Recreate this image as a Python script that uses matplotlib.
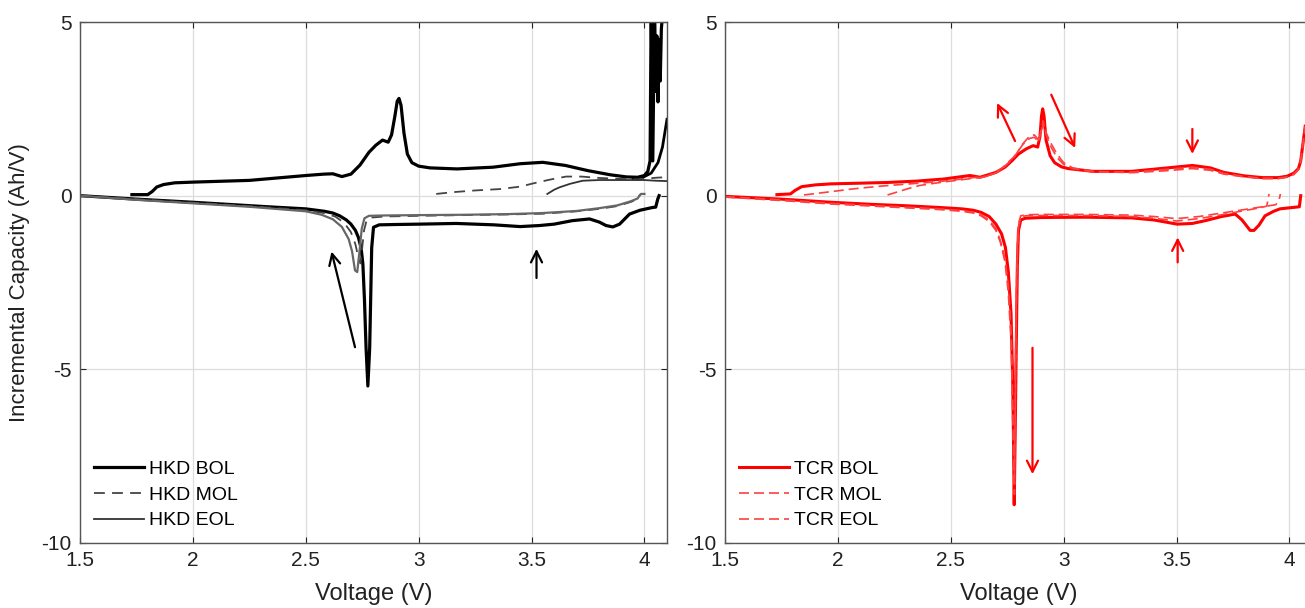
import matplotlib.pyplot as plt

plt.rcParams['font.family'] = ['Liberation Sans', 'DejaVu Sans']
plt.rcParams['axes.unicode_minus'] = False

# ---- HKD cell (left panel) ----
hkd_bol_chg_v = [1.73, 1.80, 1.82, 1.84, 1.87, 1.92, 2.0, 2.25, 2.5, 2.58, 2.62, 2.66, 2.70, 2.74, 2.78,
                 2.81, 2.84, 2.865, 2.88, 2.895, 2.905, 2.913, 2.922, 2.935, 2.95, 2.97, 3.0, 3.05, 3.17,
                 3.33, 3.45, 3.55, 3.65, 3.75, 3.85, 3.92, 3.97, 4.0, 4.015, 4.025, 4.03, 4.037, 4.045,
                 4.05, 4.055, 4.06, 4.065, 4.07, 4.075, 4.08]
hkd_bol_chg_y = [0.03, 0.03, 0.12, 0.25, 0.32, 0.37, 0.39, 0.44, 0.58, 0.62, 0.63, 0.55, 0.62, 0.88, 1.25,
                 1.45, 1.6, 1.54, 1.75, 2.3, 2.72, 2.8, 2.6, 1.8, 1.2, 0.95, 0.85, 0.8, 0.77,
                 0.82, 0.92, 0.96, 0.87, 0.72, 0.6, 0.54, 0.53, 0.58, 0.7, 1.0, 5.5, 1.0, 5.5,
                 3.0, 4.6, 2.7, 4.5, 3.3, 4.8, 5.2]
hkd_bol_tail_v = [3.95, 4.0, 4.03, 4.06, 4.08, 4.1]
hkd_bol_tail_y = [0.5, 0.55, 0.65, 0.95, 1.4, 2.2]
hkd_bol_dis_v = [1.5, 1.75, 2.0, 2.333, 2.5, 2.583, 2.62, 2.65, 2.68, 2.7, 2.72, 2.733, 2.745, 2.753, 2.76,
                 2.767, 2.775, 2.783, 2.788, 2.792, 2.8, 2.825, 2.9, 3.0, 3.167, 3.333, 3.45, 3.535, 3.6,
                 3.68, 3.757, 3.8, 3.83, 3.86, 3.89, 3.934, 3.98, 4.036, 4.05, 4.059, 4.065]
hkd_bol_dis_y = [0.0, -0.1, -0.19, -0.32, -0.38, -0.45, -0.5, -0.58, -0.7, -0.82, -1.0, -1.2, -1.5, -1.97, -3.0,
                 -4.37, -5.48, -4.4, -2.8, -1.5, -0.91, -0.84, -0.83, -0.82, -0.8, -0.84, -0.89, -0.86, -0.82,
                 -0.72, -0.67, -0.76, -0.86, -0.9, -0.82, -0.53, -0.42, -0.34, -0.33, -0.1, 0.0]

hkd_mol_chg_v = [3.078, 3.15, 3.25, 3.36, 3.45, 3.505, 3.58, 3.653, 3.72, 3.80, 3.9, 3.97, 4.02, 4.06, 4.1]
hkd_mol_chg_y = [0.05, 0.1, 0.15, 0.19, 0.26, 0.35, 0.46, 0.55, 0.55, 0.51, 0.48, 0.47, 0.5, 0.52, 0.53]
hkd_mol_dis_v = [1.5, 1.75, 2.0, 2.25, 2.5, 2.58, 2.63, 2.67, 2.7, 2.72, 2.735, 2.742, 2.75, 2.758, 2.77,
                 2.79, 2.85, 3.0, 3.2, 3.4, 3.55, 3.7, 3.8, 3.88, 3.94, 3.97, 3.978, 3.985]
hkd_mol_dis_y = [0.0, -0.1, -0.2, -0.3, -0.42, -0.5, -0.6, -0.78, -1.05, -1.4, -1.85, -1.95, -1.5, -1.0, -0.7,
                 -0.63, -0.6, -0.58, -0.56, -0.54, -0.52, -0.45, -0.38, -0.3, -0.18, -0.1, 0.0, 0.05]

hkd_eol_chg_v = [3.57, 3.6, 3.624, 3.67, 3.726, 3.8, 3.9, 4.0, 4.05, 4.1]
hkd_eol_chg_y = [0.05, 0.17, 0.24, 0.34, 0.43, 0.45, 0.45, 0.45, 0.43, 0.42]
hkd_eol_dis_v = [1.5, 1.75, 2.0, 2.25, 2.5, 2.57, 2.62, 2.66, 2.69, 2.705, 2.718, 2.728, 2.738, 2.748, 2.76,
                 2.78, 2.85, 3.0, 3.2, 3.4, 3.55, 3.7, 3.8, 3.88, 3.94, 3.97, 3.978, 3.985, 4.0]
hkd_eol_dis_y = [0.0, -0.12, -0.22, -0.32, -0.45, -0.55, -0.68, -0.9, -1.25, -1.6, -2.15, -2.2, -1.6, -0.95, -0.65,
                 -0.58, -0.57, -0.56, -0.55, -0.53, -0.5, -0.44, -0.36, -0.28, -0.16, -0.08, 0.0, 0.05, 0.05]

# ---- TCR cell (right panel) ----
tcr_bol_chg_v = [1.73, 1.79, 1.81, 1.84, 1.9, 1.97, 2.1, 2.22, 2.35, 2.47, 2.55, 2.585, 2.63, 2.70, 2.74,
                 2.77, 2.80, 2.835, 2.865, 2.885, 2.895, 2.902, 2.907, 2.913, 2.922, 2.94, 2.96, 2.99, 3.02,
                 3.13, 3.3, 3.46, 3.57, 3.65, 3.71, 3.8, 3.88, 3.95, 3.99, 4.02, 4.04, 4.05, 4.058, 4.07]
tcr_bol_chg_y = [0.03, 0.05, 0.15, 0.26, 0.31, 0.34, 0.36, 0.38, 0.42, 0.48, 0.55, 0.58, 0.53, 0.67, 0.82,
                 1.0, 1.2, 1.35, 1.44, 1.4, 1.7, 2.3, 2.5, 2.3, 1.6, 1.15, 0.95, 0.83, 0.78,
                 0.7, 0.7, 0.8, 0.87, 0.8, 0.67, 0.57, 0.52, 0.52, 0.56, 0.65, 0.78, 1.0, 1.4, 2.0]
tcr_mol_chg_v = [1.85, 1.9, 1.95, 2.0, 2.06, 2.12, 2.2, 2.3, 2.4, 2.5, 2.6, 2.66, 2.72, 2.78, 2.82, 2.85,
                 2.87, 2.89, 2.9, 2.91, 2.92, 2.94, 2.97, 3.0, 3.04, 3.13, 3.3, 3.46, 3.57, 3.65, 3.71,
                 3.8, 3.88, 3.95, 3.99, 4.02, 4.04, 4.05, 4.058, 4.07]
tcr_mol_chg_y = [0.02, 0.06, 0.1, 0.14, 0.19, 0.23, 0.28, 0.33, 0.38, 0.44, 0.52, 0.56, 0.75, 1.12, 1.48, 1.65,
                 1.68, 1.55, 1.9, 2.15, 1.8, 1.45, 1.1, 0.9, 0.78, 0.68, 0.68, 0.76, 0.82, 0.76, 0.64,
                 0.55, 0.5, 0.5, 0.54, 0.62, 0.76, 1.0, 1.4, 2.0]
tcr_eol_chg_v = [2.22, 2.27, 2.32, 2.36, 2.42, 2.5, 2.6, 2.66, 2.72, 2.78, 2.82, 2.85, 2.87, 2.89, 2.9,
                 2.91, 2.92, 2.94, 2.97, 3.0, 3.04, 3.13, 3.3, 3.46, 3.57, 3.65, 3.71, 3.8, 3.88, 3.95,
                 3.99, 4.02, 4.04, 4.05, 4.058, 4.07]
tcr_eol_chg_y = [0.02, 0.12, 0.22, 0.29, 0.35, 0.42, 0.5, 0.55, 0.72, 1.1, 1.5, 1.72, 1.75, 1.6, 1.85,
                 2.05, 1.85, 1.55, 1.2, 0.95, 0.8, 0.7, 0.66, 0.72, 0.78, 0.73, 0.62, 0.54, 0.49, 0.49,
                 0.53, 0.61, 0.75, 1.0, 1.4, 2.0]

tcr_bol_dis_v = [1.5, 1.75, 1.97, 2.15, 2.3, 2.45, 2.55, 2.6, 2.634, 2.67, 2.7, 2.725, 2.742, 2.755, 2.767,
                 2.775, 2.781, 2.785, 2.79, 2.795, 2.8, 2.81, 2.83, 2.9, 2.965, 3.1, 3.3, 3.4, 3.503, 3.57,
                 3.627, 3.7, 3.76, 3.79, 3.826, 3.843, 3.865, 3.892, 3.93, 3.958, 4.0, 4.044, 4.05]
tcr_bol_dis_y = [-0.02, -0.1, -0.19, -0.25, -0.29, -0.34, -0.38, -0.42, -0.48, -0.6, -0.82, -1.1, -1.49, -2.2, -3.4,
                 -5.5, -8.9, -7.0, -4.4, -2.0, -1.0, -0.7, -0.65, -0.63, -0.625, -0.62, -0.64, -0.7, -0.82, -0.8,
                 -0.72, -0.6, -0.53, -0.7, -1.0, -1.0, -0.85, -0.58, -0.45, -0.38, -0.35, -0.32, 0.0]
tcr_mol_dis_v = [1.5, 1.75, 1.97, 2.15, 2.3, 2.45, 2.55, 2.6, 2.634, 2.67, 2.7, 2.72, 2.74, 2.755, 2.768,
                 2.776, 2.782, 2.786, 2.79, 2.795, 2.8, 2.81, 2.83, 2.9, 3.0, 3.1, 3.3, 3.4, 3.5, 3.6,
                 3.7, 3.8, 3.87, 3.9, 3.905, 3.91]
tcr_mol_dis_y = [-0.03, -0.12, -0.22, -0.28, -0.33, -0.38, -0.43, -0.48, -0.55, -0.7, -0.95, -1.3, -1.8, -2.6, -4.0,
                 -6.5, -8.6, -6.0, -3.5, -1.6, -0.9, -0.62, -0.58, -0.57, -0.57, -0.57, -0.6, -0.65, -0.73, -0.66,
                 -0.55, -0.43, -0.35, -0.3, -0.1, 0.05]
tcr_eol_dis_v = [1.5, 1.75, 1.97, 2.15, 2.3, 2.45, 2.55, 2.6, 2.634, 2.67, 2.7, 2.72, 2.74, 2.755, 2.768,
                 2.776, 2.782, 2.786, 2.79, 2.795, 2.8, 2.81, 2.83, 2.9, 3.0, 3.1, 3.3, 3.4, 3.5, 3.6,
                 3.7, 3.8, 3.88, 3.94, 3.955, 3.96]
tcr_eol_dis_y = [-0.04, -0.14, -0.24, -0.3, -0.35, -0.4, -0.45, -0.5, -0.58, -0.74, -1.0, -1.35, -1.9, -2.8, -4.3,
                 -7.0, -8.3, -5.5, -3.0, -1.4, -0.8, -0.58, -0.55, -0.54, -0.54, -0.54, -0.56, -0.6, -0.66, -0.6,
                 -0.5, -0.4, -0.32, -0.26, -0.1, 0.05]

xticks = [1.5, 2, 2.5, 3, 3.5, 4]
xtick_labels = ['1.5', '2', '2.5', '3', '3.5', '4']
yticks = [-10, -5, 0, 5]

fig = plt.figure(figsize=(13.05, 6.08), dpi=100)
ax1 = fig.add_axes([80 / 1305, 65 / 608, 587 / 1305, 521 / 608])
ax2 = fig.add_axes([725 / 1305, 65 / 608, 587 / 1305, 521 / 608])

# left panel curves
ax1.plot(hkd_bol_chg_v, hkd_bol_chg_y, color='black', lw=2.3, label='HKD BOL')
ax1.plot(hkd_bol_dis_v, hkd_bol_dis_y, color='black', lw=2.3)
ax1.plot(hkd_bol_tail_v, hkd_bol_tail_y, color='black', lw=2.0)
ax1.plot(hkd_mol_chg_v, hkd_mol_chg_y, color='#444444', lw=1.3, ls=(0, (6, 4)), label='HKD MOL')
ax1.plot(hkd_mol_dis_v, hkd_mol_dis_y, color='#444444', lw=1.3, ls=(0, (6, 4)))
ax1.plot(hkd_eol_chg_v, hkd_eol_chg_y, color='#333333', lw=1.3, label='HKD EOL')
ax1.plot(hkd_eol_dis_v, hkd_eol_dis_y, color='#666666', lw=1.6)

# right panel curves
ax2.plot(tcr_bol_chg_v, tcr_bol_chg_y, color='#ff0000', lw=2.2, label='TCR BOL')
ax2.plot(tcr_bol_dis_v, tcr_bol_dis_y, color='#ff0000', lw=2.2)
ax2.plot(tcr_mol_chg_v, tcr_mol_chg_y, color='#ff4040', lw=1.2, ls=(0, (6, 3)), label='TCR MOL')
ax2.plot(tcr_mol_dis_v, tcr_mol_dis_y, color='#ff4040', lw=1.2, ls=(0, (6, 3)))
ax2.plot(tcr_eol_chg_v, tcr_eol_chg_y, color='#ff4040', lw=1.2, ls=(0, (6, 3)), label='TCR EOL')
ax2.plot(tcr_eol_dis_v, tcr_eol_dis_y, color='#ff4040', lw=1.2, ls=(0, (6, 3)))

# arrows
arr_k = dict(arrowstyle='->', color='black', lw=1.6, mutation_scale=20)
ax1.annotate('', xy=(2.611, -1.53), xytext=(2.721, -4.44), arrowprops=arr_k)
ax1.annotate('', xy=(3.522, -1.45), xytext=(3.522, -2.45), arrowprops=arr_k)

arr_r = dict(arrowstyle='->', color='#ff0000', lw=1.6, mutation_scale=20)
ax2.annotate('', xy=(2.70, 2.74), xytext=(2.79, 1.5), arrowprops=arr_r)
ax2.annotate('', xy=(3.056, 1.3), xytext=(2.94, 2.98), arrowprops=arr_r)
ax2.annotate('', xy=(3.57, 1.12), xytext=(3.57, 2.0), arrowprops=arr_r)
ax2.annotate('', xy=(3.505, -1.12), xytext=(3.505, -2.0), arrowprops=arr_r)
ax2.annotate('', xy=(2.862, -8.1), xytext=(2.862, -4.3), arrowprops=arr_r)

for ax in (ax1, ax2):
    ax.set_xlim(1.5, 4.1)
    ax.set_ylim(-10, 5)
    ax.set_xticks(xticks)
    ax.set_xticklabels(xtick_labels)
    ax.set_yticks(yticks)
    ax.grid(True, color='#dddddd', lw=0.9)
    ax.tick_params(direction='in', length=4, labelsize=15, colors='#222222',
                   top=True, right=True, pad=6)
    for s in ax.spines.values():
        s.set_color('#555555')
        s.set_linewidth(1.0)
    ax.set_xlabel('Voltage (V)', fontsize=17, color='#222222', labelpad=9)
    ax.legend(loc='lower left', bbox_to_anchor=(0.0, 0.0), frameon=False, fontsize=14,
              handlelength=2.6, handletextpad=0.25, labelspacing=0.42, borderaxespad=0.3)

ax1.set_ylabel('Incremental Capacity (Ah/V)', fontsize=16, color='#222222')
ax1.yaxis.set_label_coords(-50 / 587, 0.5)

fig.savefig('out.png', dpi=100)
